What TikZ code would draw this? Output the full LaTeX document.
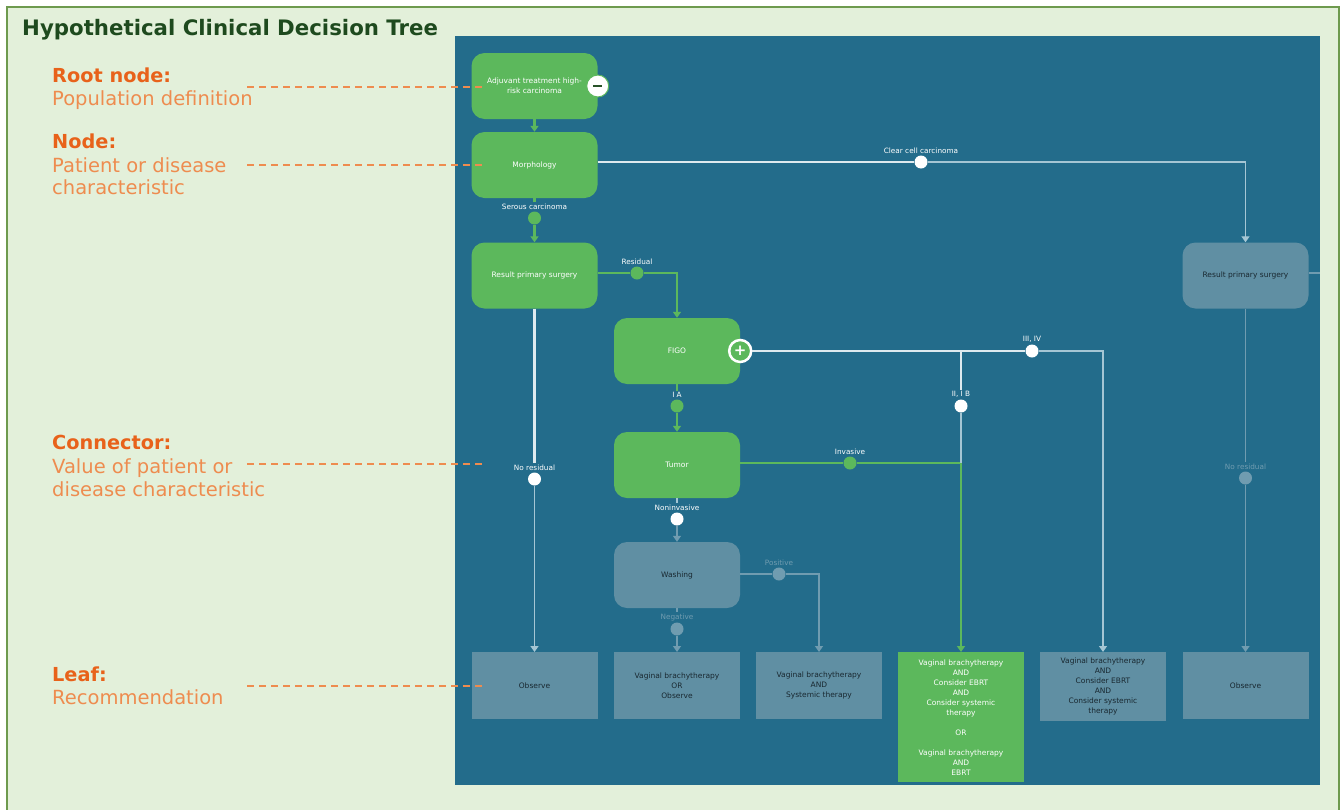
\documentclass[tikz,border=0pt]{standalone}
\usepackage{fontspec}
\setmainfont{DejaVu Sans}
\usetikzlibrary{arrows.meta,positioning}
\definecolor{paper}{RGB}{227,240,218}
\definecolor{framegreen}{RGB}{110,154,78}
\definecolor{panel}{RGB}{35,108,139}
\definecolor{leafgreen}{RGB}{92,184,92}
\definecolor{faded}{RGB}{96,143,163}
\definecolor{fadedline}{RGB}{112,156,176}
\definecolor{thinline}{RGB}{165,198,212}
\definecolor{whiteline}{RGB}{222,234,239}
\definecolor{orangebold}{RGB}{232,98,26}
\definecolor{orangetext}{RGB}{238,140,79}
\definecolor{titlegreen}{RGB}{30,74,30}
\definecolor{darktext}{RGB}{25,40,48}

\begin{document}
\begin{tikzpicture}[x=1pt,y=-1pt,
        every node/.style={inner sep=0pt},
        decision/.style={rectangle,rounded corners=13pt,fill=leafgreen,minimum width=126pt,minimum height=66pt,text=white,align=center,font=\fontsize{7.5}{10}\selectfont},
        ghost/.style={decision,fill=faded,text=darktext},
        leafbox/.style={rectangle,fill=faded,minimum width=126pt,minimum height=67pt,anchor=north,text=darktext,align=center,font=\fontsize{7.5}{10}\selectfont},
        knob/.style={circle,fill=white,minimum size=13pt,label distance=4.5pt},
        gknob/.style={knob,fill=leafgreen},
        fknob/.style={knob,fill=fadedline},
        every label/.style={text=white,inner sep=1.5pt,font=\fontsize{7.3}{8}\selectfont},
        fadedlabel/.style={text=fadedline},
        glink/.style={draw=leafgreen,line width=2.2pt},
        wlink/.style={draw=whiteline,line width=2.8pt},
        tlink/.style={draw=thinline,line width=1.3pt},
        flink/.style={draw=fadedline,line width=1.3pt},
        arrowed/.style={-{Triangle[width=8pt,length=6pt]}},
        legendhead/.style={anchor=base west,text=orangebold,font=\bfseries\fontsize{19.3}{23}\selectfont},
        legendtext/.style={anchor=base west,text=orangetext,font=\fontsize{19.5}{23}\selectfont},
        guide/.style={draw=orangetext,line width=1.4pt,dash pattern=on 7pt off 5pt}]
    \useasboundingbox (0,0) rectangle (1342,809);
    \draw[framegreen,fill=paper,line width=1.5pt] (7,7) rectangle (1339,816);
    \fill[panel] (455,36) rectangle (1320,785);
    \node[anchor=base west,text=titlegreen,font=\bfseries\fontsize{21.3}{25}\selectfont] (title) at (22,35) {Hypothetical Clinical Decision Tree};

    % legend
    \node[legendhead] (rootlab) at (52,82) {Root node:};
    \node[legendtext] (rootdesc) at (52,105) {Population definition};
    \node[legendhead] (nodelab) at (52,148) {Node:};
    \node[legendtext] (nodedesc) at (52,172) {Patient or disease};
    \node[legendtext] (nodedescb) at (52,194) {characteristic};
    \node[legendhead] (connlab) at (52,449) {Connector:};
    \node[legendtext] (conndesc) at (52,473) {Value of patient or};
    \node[legendtext] (conndescb) at (52,496) {disease characteristic};
    \node[legendhead] (leaflab) at (52,681) {Leaf:};
    \node[legendtext] (leafdesc) at (52,704) {Recommendation};

    % decision nodes
    \node[decision] (root) at (534.5,86) {Adjuvant treatment high-\\risk carcinoma};
    \node[decision] (morph) at (534.5,165) {Morphology};
    \node[decision] (rps) at (534.5,275.5) {Result primary surgery};
    \node[decision] (figo) at (677,351) {FIGO};
    \node[decision] (tumor) at (677,465) {Tumor};
    \node[ghost] (washing) at (677,575) {Washing};
    \node[ghost] (rrps) at (1245.5,275.5) {Result primary surgery};
    \node[circle,fill=white,draw=leafgreen,line width=1pt,minimum size=22pt,text=leafgreen!45!black] (rootfold) at (root.east) {\rule{9pt}{2.5pt}};
    \node[circle,fill=leafgreen,draw=white,line width=2.5pt,minimum size=22pt,text=white,font=\bfseries\fontsize{15}{15}\selectfont] (figofold) at (figo.east) {+};

    % leaves
    \node[leafbox] (leafa) at (534.5,652) {Observe};
    \node[leafbox] (leafb) at (677,652) {Vaginal brachytherapy\\OR\\Observe};
    \node[leafbox] (leafc) at (819,652) {Vaginal brachytherapy\\AND\\Systemic therapy};
    \node[leafbox,fill=leafgreen,text=white,minimum height=130pt] (leafd) at (961,652) {Vaginal brachytherapy\\AND\\Consider EBRT\\AND\\Consider systemic\\therapy\\[10pt]OR\\[10pt]Vaginal brachytherapy\\AND\\EBRT};
    \node[leafbox,minimum height=69pt] (leafe) at (1103,652) {Vaginal brachytherapy\\AND\\Consider EBRT\\AND\\Consider systemic\\therapy};
    \node[leafbox] (leaff) at (1245.5,652) {Observe};

    % connector values
    \node[gknob,label={[name=serouslab]above:Serous carcinoma}] (serous) at (534.5,218) {};
    \node[gknob,label={above:Residual}] (resid) at (637,273) {};
    \node[gknob,label={[name=ialab]above:I A}] (figoia) at (677,406) {};
    \node[gknob,label={above:Invasive}] (invasive) at (850,463) {};
    \node[knob,label={[name=noninvlab]above:Noninvasive}] (noninv) at (677,519) {};
    \node[fknob,label={[fadedlabel]above:Positive}] (positive) at (779,574) {};
    \node[fknob,label={[fadedlabel,name=negativelab]above:Negative}] (negative) at (677,629) {};
    \node[knob,label={above:Clear cell carcinoma}] (clearcell) at (921,162) {};
    \node[knob,label={[name=noreslab]above:No residual}] (nores) at (534.5,479) {};
    \node[fknob,label={[fadedlabel,name=rnoreslab]above:No residual}] (rnores) at (1245.5,478) {};
    \node[knob,label={above:III, IV}] (figoiv) at (1032,351) {};
    \node[knob,label={[name=figoiilab]above:II, I B}] (figoii) at (961,406) {};
    \coordinate (figosplit) at (961,351);
    \coordinate (invbend) at (961,463);
    \coordinate (rrpsout) at (1320,273);

    % green path
    \draw[glink,arrowed] (root) -- (morph);
    \draw[glink] (morph) -- (serouslab);
    \draw[glink,arrowed] (serous) -- (rps);
    \draw[glink] (rps.east |- resid) -- (resid);
    \draw[glink,arrowed] (resid) -| (figo);
    \draw[glink] (figo) -- (ialab);
    \draw[glink,arrowed] (figoia) -- (tumor);
    \draw[glink] (tumor.east |- invasive) -- (invasive);
    \draw[glink,arrowed] (invasive) -| (leafd);

    % other branches
    \draw[wlink] (morph.east |- clearcell) -- (clearcell);
    \draw[tlink,arrowed] (clearcell) -| (rrps);
    \draw[wlink] (rps) -- (noreslab);
    \draw[tlink,arrowed] (nores) -- (leafa);
    \draw[wlink] (figofold) -- (figoiv);
    \draw[wlink] (figosplit) -- (figoiilab);
    \draw[tlink] (figoii) -- (invbend);
    \draw[tlink,arrowed] (figoiv) -| (leafe);
    \draw[tlink] (tumor) -- (noninvlab);
    \draw[flink,arrowed] (noninv) -- (washing);
    \draw[flink] (washing.east |- positive) -- (positive);
    \draw[flink,arrowed] (positive) -| (leafc);
    \draw[flink] (washing) -- (negativelab);
    \draw[flink,arrowed] (negative) -- (leafb);
    \draw[flink] (rrps.east |- rrpsout) -- (rrpsout);
    \draw[flink] (rrps) -- (rnoreslab);
    \draw[flink,arrowed] (rnores) -- (leaff);

    % pointers
    \coordinate (rootptr) at (247,87);
    \coordinate (rootend) at (483,87);
    \coordinate (nodeptr) at (247,165);
    \coordinate (nodeend) at (483,165);
    \coordinate (connptr) at (247,464);
    \coordinate (connend) at (483,464);
    \coordinate (leafptr) at (247,686);
    \coordinate (leafend) at (483,686);
    \draw[guide] (rootptr) -- (rootend);
    \draw[guide] (nodeptr) -- (nodeend);
    \draw[guide] (connptr) -- (connend);
    \draw[guide] (leafptr) -- (leafend);
\end{tikzpicture}
\end{document}
